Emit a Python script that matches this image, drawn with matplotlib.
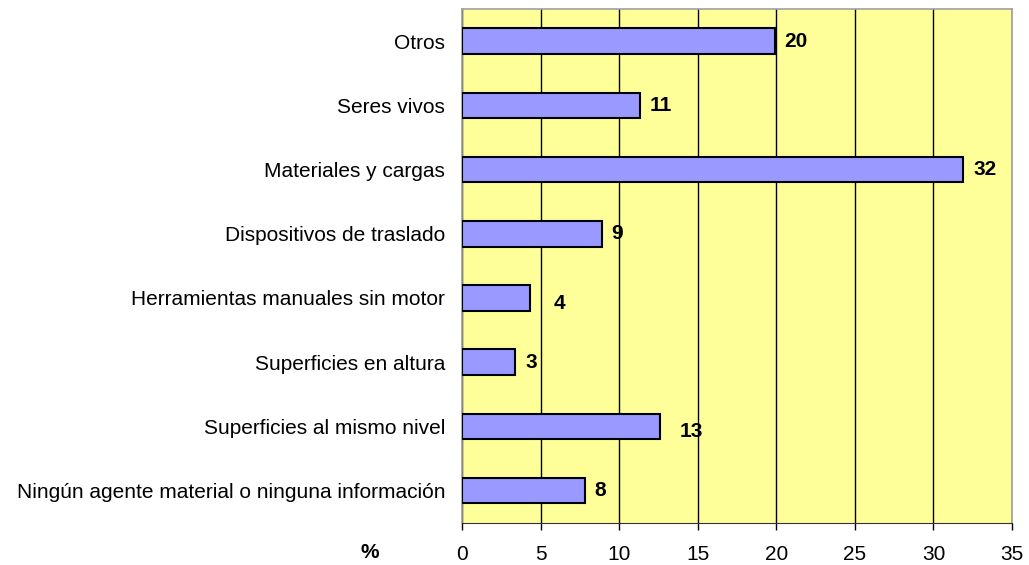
import numpy as np
import matplotlib.pyplot as plt

plt.rcParams['font.family'] = ['Liberation Sans', 'DejaVu Sans']

categories = [
    "Ningún agente material o ninguna información",
    "Superficies al mismo nivel",
    "Superficies en altura",
    "Herramientas manuales sin motor",
    "Dispositivos de traslado",
    "Materiales y cargas",
    "Seres vivos",
    "Otros",
]
values = [7.8, 12.6, 3.4, 4.3, 8.9, 31.9, 11.3, 19.9]
# a couple of labels sit a bit further out and lower
label_offsets = [(7, 0), (14, -4), (7, 0), (17, -4), (7, 0), (7, 0), (7, 0), (7, 0)]
xticks = [0, 5, 10, 15, 20, 25, 30, 35]

fig = plt.figure(figsize=(10.29, 5.65), dpi=100)
ax = fig.add_axes([0.449, 0.0749, 0.5345, 0.9091])
ax.set_facecolor("#FFFF99")

y = np.arange(len(categories))
ax.barh(y, values, height=0.4, color="#9999FF", edgecolor="black", linewidth=1.5, zorder=3)

for yi, v, (dx, dy) in zip(y, values, label_offsets):
    ax.annotate(f"{v:.0f}", xy=(v, yi), xytext=(dx, dy), textcoords="offset points",
                ha="left", va="center", fontsize=15, fontweight="bold", zorder=4)

ax.set_xlim(0, 35)
ax.set_ylim(-0.5, len(categories) - 0.5)
ax.set_xticks(xticks)
ax.set_yticks(y)
ax.set_yticklabels(categories, fontsize=15)
ax.tick_params(axis="y", length=0, pad=12)
ax.tick_params(axis="x", length=5, width=1, pad=11, labelsize=15)
ax.grid(axis="x", color="black", linewidth=1, zorder=1)

for side in ["left", "top", "right"]:
    ax.spines[side].set_color("#A0A0A0")
    ax.spines[side].set_linewidth(1.2)
ax.spines["bottom"].set_color("#333333")

fig.text(370 / 1029, 1 - 553 / 565, "%", ha="center", va="center", fontsize=15, fontweight="bold")

fig.savefig("out.png", dpi=100)
